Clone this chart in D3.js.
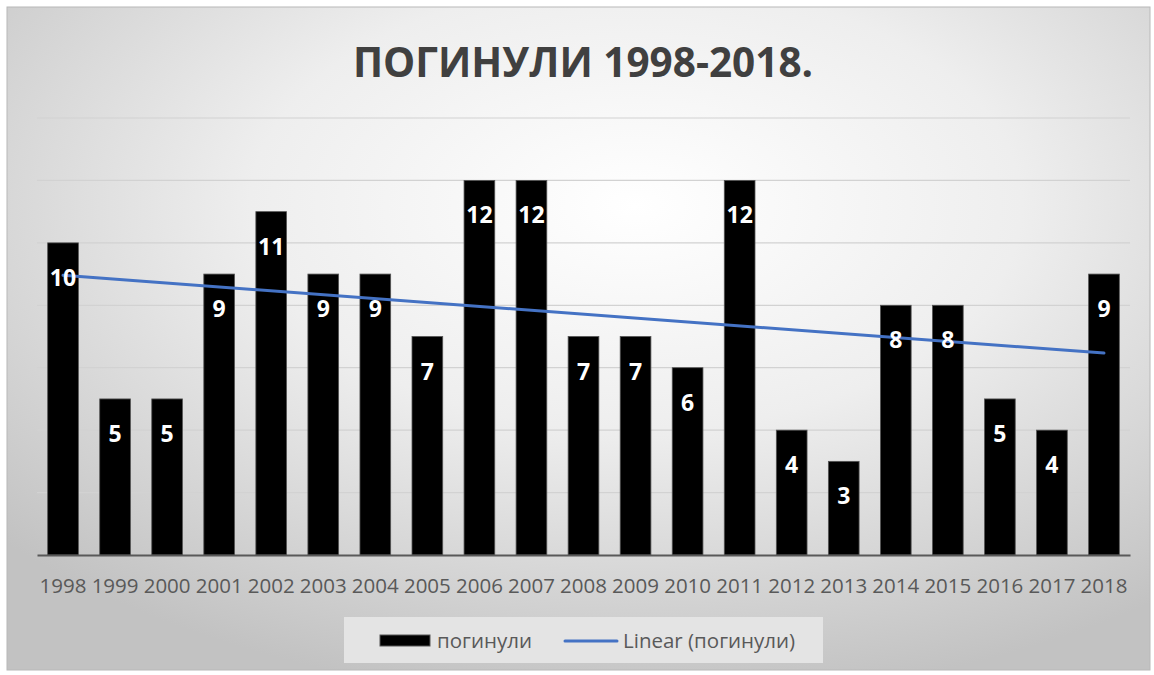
<!DOCTYPE html>
<html><head><meta charset="utf-8">
<script src="https://cdn.jsdelivr.net/npm/d3@7"></script>
<style>body{margin:0;background:#fff}svg{display:block}</style>
</head><body>
<svg id="c" width="1154" height="675"></svg>
<script>
const years = ["1998","1999","2000","2001","2002","2003","2004","2005","2006","2007","2008","2009","2010","2011","2012","2013","2014","2015","2016","2017","2018"];
const deaths = [10,5,5,9,11,9,9,7,12,12,7,7,6,12,4,3,8,8,5,4,9];
const yTicks = [0,2,4,6,8,10,12,14];
const title = "ПОГИНУЛИ 1998-2018.";
const seriesName = "погинули";
const trendName = "Linear (погинули)";

const svg = d3.select("#c");
const defs = svg.append("defs");
const rg = defs.append("radialGradient").attr("id","bg").attr("cx","0.55").attr("cy","0.3").attr("r","0.75");
rg.append("stop").attr("offset","0").attr("stop-color","#ffffff");
rg.append("stop").attr("offset","0.45").attr("stop-color","#eeeeee");
rg.append("stop").attr("offset","1").attr("stop-color","#c2c2c2");

svg.append("rect").attr("x",7).attr("y",7).attr("width",1143).attr("height",663)
  .attr("fill","url(#bg)").attr("stroke","#b8b8b8").attr("stroke-width",1);

const font = "'Open Sans', 'DejaVu Sans', sans-serif";
svg.append("text").attr("x",583).attr("y",77).attr("text-anchor","middle")
  .attr("font-family",font).attr("font-weight","bold").attr("font-size",40.5)
  .attr("fill","#404040").text(title);

const x = d3.scaleBand().domain(years).range([37,1130]).paddingInner(0.41).paddingOuter(0.205);
const y = d3.scaleLinear().domain([0,14]).range([555,118]);

const g = svg.append("g");
g.selectAll(".grid").data(yTicks.slice(1)).join("line")
  .attr("x1",37).attr("x2",1130).attr("y1",d=>y(d)).attr("y2",d=>y(d))
  .attr("stroke","#d2d2d2").attr("stroke-width",1.2);

g.selectAll(".bar").data(deaths).join("rect")
  .attr("x",(d,i)=>x(years[i])).attr("width",x.bandwidth())
  .attr("y",d=>y(d)).attr("height",d=>y(0)-y(d))
  .attr("fill","#000").attr("stroke","#555").attr("stroke-width",0.8);

const xa = d3.axisBottom(x).tickSize(0).tickPadding(0);
const ax = svg.append("g").attr("transform",`translate(0,${y(0)})`).call(xa);
ax.select(".domain").attr("stroke","#595959").attr("stroke-width",2);
ax.selectAll("text").attr("font-family",font).attr("font-size",20.5).attr("fill","#595959").attr("dy","1.85em");

// trendline: least squares fit
const n = deaths.length;
const xs = deaths.map((d,i)=>i+1);
const mx = d3.mean(xs), my = d3.mean(deaths);
const slope = d3.sum(xs.map((xi,i)=>(xi-mx)*(deaths[i]-my)))/d3.sum(xs.map(xi=>(xi-mx)**2));
const icpt = my - slope*mx;
const cx = i => x(years[i]) + x.bandwidth()/2;
svg.append("line").attr("x1",cx(0)).attr("y1",y(icpt+slope*1))
  .attr("x2",cx(n-1)).attr("y2",y(icpt+slope*n))
  .attr("stroke","#4472c4").attr("stroke-width",3).attr("stroke-linecap","round");

svg.selectAll(".lbl").data(deaths).join("text")
  .attr("x",(d,i)=>cx(i)).attr("y",d=>y(d)+43)
  .attr("text-anchor","middle").attr("font-family",font).attr("font-weight","bold")
  .attr("font-size",23).attr("fill","#fff").text(d=>d);

// legend
const lg = svg.append("g");
lg.append("rect").attr("x",344).attr("y",617).attr("width",479).attr("height",46).attr("fill","#e4e4e4");
lg.append("rect").attr("x",380).attr("y",635).attr("width",50).attr("height",11).attr("fill","#000").attr("stroke","#555");
lg.append("text").attr("x",437).attr("y",648).attr("font-family",font).attr("font-size",20.5).attr("fill","#595959").text(seriesName);
lg.append("line").attr("x1",565).attr("x2",617).attr("y1",641).attr("y2",641).attr("stroke","#4472c4").attr("stroke-width",3).attr("stroke-linecap","round");
lg.append("text").attr("x",623).attr("y",648).attr("font-family",font).attr("font-size",20.5).attr("fill","#595959").text(trendName);
</script>
</body></html>
